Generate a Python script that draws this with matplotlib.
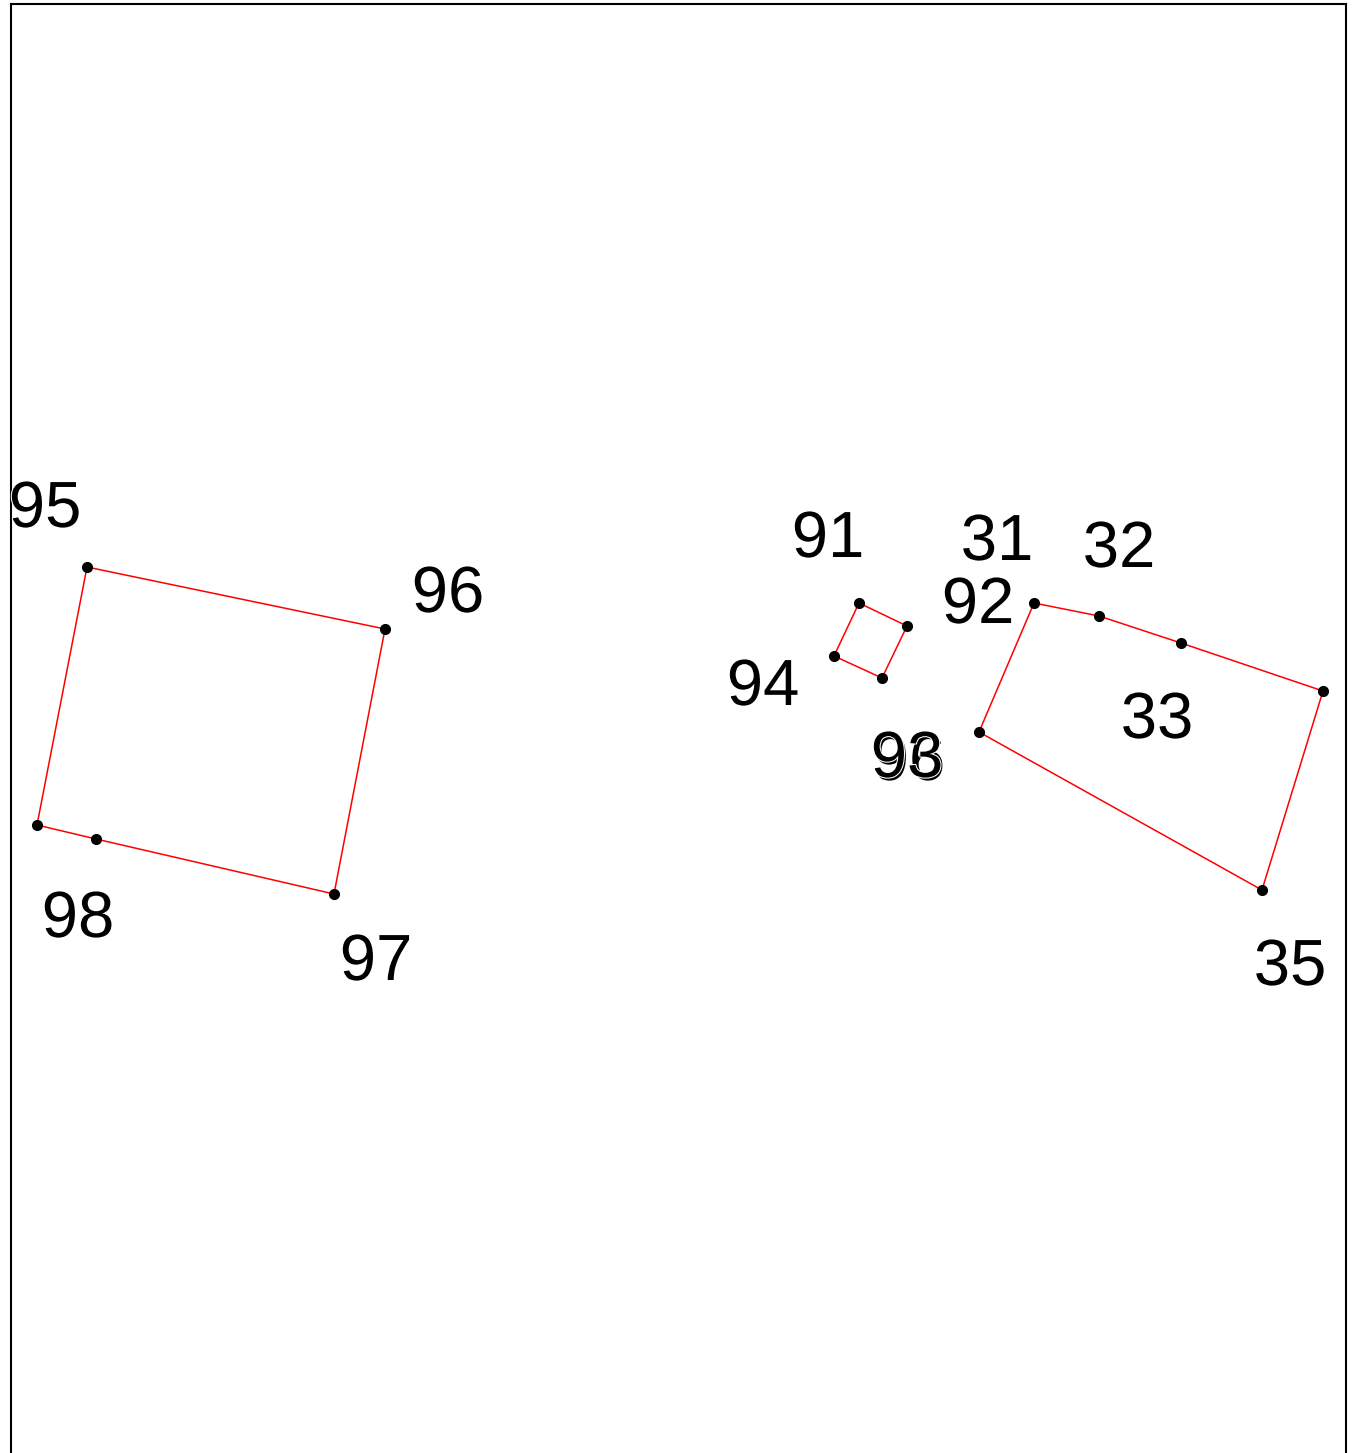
import matplotlib
matplotlib.use("Agg")
import matplotlib.pyplot as plt
import matplotlib.patheffects as pe

H = 1453

# Polygon vertices (x, y) in plot units (y measured upward)
poly1_x = [87, 385, 334, 96, 37, 87]
poly1_y = [886, 824, 559, 614, 628, 886]

poly2_x = [859, 907, 882, 834, 859]
poly2_y = [850, 827, 775, 797, 850]

poly3_x = [1034, 1099, 1181, 1323, 1262, 979, 1034]
poly3_y = [850, 837, 810, 762, 563, 721, 850]

# Labels (text, x, baseline y)
label_text = ["95", "96", "98", "97", "91", "94", "31", "32", "92", "33", "35", "96", "93"]
label_x = [45, 448, 78, 376, 828, 763, 997, 1119, 978, 1157, 1290, 909, 907]
label_y = [926, 841, 516, 473, 896, 748, 893, 886, 830, 715, 468, 673, 676]

fig = plt.figure(figsize=(13.52, 14.53), dpi=100)
ax = fig.add_axes([11 / 1352, -3 / H, 1335 / 1352, (H - 4 + 3) / H])

for px, py in [(poly1_x, poly1_y), (poly2_x, poly2_y), (poly3_x, poly3_y)]:
    ax.plot(px, py, color="red", lw=1.1, zorder=2)
    ax.plot(px[:-1], py[:-1], "o", color="black", ms=7, zorder=3)

for t, x, y in zip(label_text, label_x, label_y):
    ax.text(x, y, t, ha="center", va="baseline", fontsize=47,
            family="Liberation Sans", color="black", zorder=4,
            path_effects=[pe.withStroke(linewidth=1.5, foreground="white")])

ax.set_xlim(11, 1346)
ax.set_ylim(-3, H - 4)
ax.set_xticks([])
ax.set_yticks([])
for s in ax.spines.values():
    s.set_linewidth(1.5)

fig.savefig("out.png", dpi=100)
